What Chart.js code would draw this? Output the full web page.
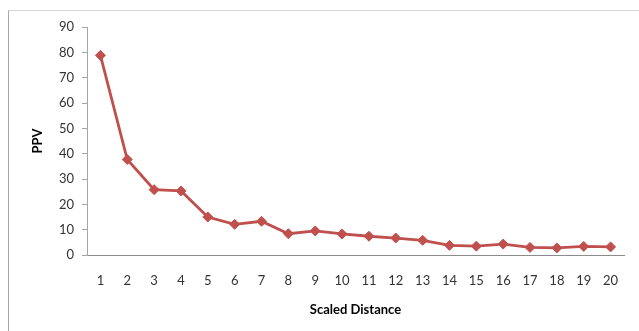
<!DOCTYPE html>
<html lang="en">
<head>
    <meta charset="UTF-8">
    <title>PPV vs Scaled Distance</title>
    <script src="https://cdn.jsdelivr.net/npm/chart.js"></script>
    <style>
        html, body { margin: 0; padding: 0; background: #fff; overflow: hidden; }
        #frame {
            position: absolute; left: 8px; top: 10px; width: 700px; height: 400px;
            border-top: 1px solid #d4d4d4; border-left: 1px solid #a6a6a6;
        }
        #wrap { position: absolute; left: 0; top: 0; width: 639px; height: 331px; }
    </style>
</head>
<body>
    <div id="frame"></div>
    <div id="wrap"><canvas id="chart"></canvas></div>
    <script>
        // scaled distance categories and measured PPV
        var distances = ['1', '2', '3', '4', '5', '6', '7', '8', '9', '10',
                         '11', '12', '13', '14', '15', '16', '17', '18', '19', '20'];
        var ppv = [78.8, 37.7, 25.8, 25.3, 15.0, 12.1, 13.3, 8.4, 9.5, 8.3,
                   7.4, 6.7, 5.8, 3.8, 3.5, 4.3, 3.0, 2.8, 3.4, 3.2];
        var yTicks = [0, 10, 20, 30, 40, 50, 60, 70, 80, 90];

        var red = '#C0504D';
        var font = 'Lato, "Open Sans", sans-serif';

        var ctx = document.getElementById('chart').getContext('2d');
        var chart = new Chart(ctx, {
            type: 'line',
            data: {
                labels: distances,
                datasets: [{
                    label: 'PPV',
                    data: ppv,
                    borderColor: red,
                    backgroundColor: red,
                    borderWidth: 2.8,
                    pointStyle: 'rectRot',
                    pointRadius: 5,
                    pointBorderWidth: 1,
                    tension: 0
                }]
            },
            options: {
                responsive: true,
                maintainAspectRatio: false,
                animation: false,
                layout: { padding: { top: 27, right: 15, bottom: 13, left: 30 } },
                plugins: { legend: { display: false }, tooltip: { enabled: false } },
                scales: {
                    x: {
                        offset: true,
                        grid: { display: true, drawOnChartArea: false, drawTicks: false, color: 'rgba(0,0,0,0)' },
                        border: { display: true, color: '#8c8c8c', width: 1 },
                        ticks: { color: '#333', padding: 18, font: { family: font, size: 13 }, maxRotation: 0, autoSkip: false },
                        title: { display: true, text: 'Scaled Distance', color: '#000', padding: 0,
                                 font: { family: font, size: 13, weight: 'bold' } },
                        afterFit: function (s) { s.height = 63; }
                    },
                    y: {
                        min: 0,
                        max: 90,
                        afterBuildTicks: function (s) { s.ticks = yTicks.map(function (v) { return { value: v }; }); },
                        grid: { display: true, drawOnChartArea: false, drawTicks: true, tickLength: 5, color: '#a6a6a6' },
                        border: { display: true, color: '#a6a6a6', width: 1 },
                        ticks: { color: '#333', padding: 8, font: { family: font, size: 13 } },
                        title: { display: true, text: 'PPV', color: '#000', padding: 0,
                                 font: { family: font, size: 13, weight: 'bold' } },
                        afterFit: function (s) { s.width = 57; }
                    }
                }
            }
        });
    </script>
</body>
</html>
